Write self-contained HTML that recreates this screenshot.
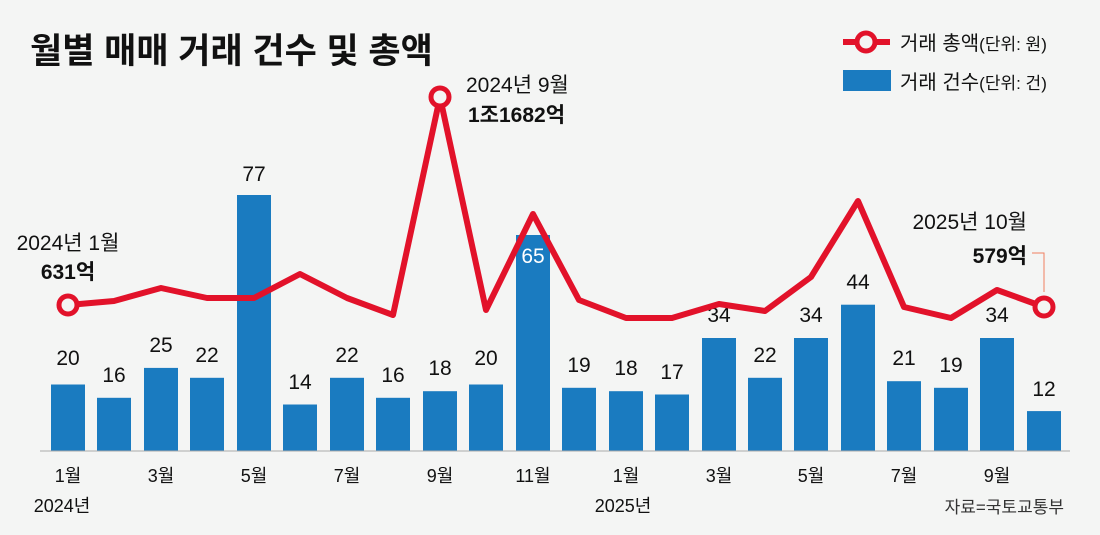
<!DOCTYPE html>
<html><head><meta charset="utf-8"><style>
html,body{margin:0;padding:0;background:#f4f5f4;}
svg{display:block;font-family:"Liberation Sans","Noto Sans CJK KR",sans-serif;}
</style></head><body>
<svg width="1100" height="535" viewBox="0 0 1100 535">
<rect width="1100" height="535" fill="#f4f5f4"/>
<text x="30" y="63" font-size="35" font-weight="bold" fill="#111">월별 매매 거래 건수 및 총액</text>
<line x1="843" y1="42" x2="890" y2="42" stroke="#e2122a" stroke-width="6"/>
<circle cx="866" cy="42" r="9" fill="#f4f5f4" stroke="#e2122a" stroke-width="5"/>
<text x="900" y="50" font-size="20" fill="#111">거래 총액<tspan font-size="17">(단위: 원)</tspan></text>
<rect x="843" y="70" width="48" height="21" fill="#1a7bc0"/>
<text x="900" y="89" font-size="20" fill="#111">거래 건수<tspan font-size="17">(단위: 건)</tspan></text>
<g fill="#1a7bc0">
<rect x="51" y="384.5" width="34" height="66.5"/>
<rect x="97" y="397.8" width="34" height="53.2"/>
<rect x="144" y="367.9" width="34" height="83.1"/>
<rect x="190" y="377.8" width="34" height="73.2"/>
<rect x="237" y="195" width="34" height="256"/>
<rect x="283" y="404.5" width="34" height="46.5"/>
<rect x="330" y="377.8" width="34" height="73.2"/>
<rect x="376" y="397.8" width="34" height="53.2"/>
<rect x="423" y="391.2" width="34" height="59.8"/>
<rect x="469" y="384.5" width="34" height="66.5"/>
<rect x="516" y="235" width="34" height="216"/>
<rect x="562" y="387.8" width="34" height="63.2"/>
<rect x="609" y="391.2" width="34" height="59.8"/>
<rect x="655" y="394.5" width="34" height="56.5"/>
<rect x="702" y="338" width="34" height="113"/>
<rect x="748" y="377.8" width="34" height="73.2"/>
<rect x="794" y="338" width="34" height="113"/>
<rect x="841" y="304.7" width="34" height="146.3"/>
<rect x="887" y="381.2" width="34" height="69.8"/>
<rect x="934" y="387.8" width="34" height="63.2"/>
<rect x="980" y="338" width="34" height="113"/>
<rect x="1027" y="411.1" width="34" height="39.9"/>
</g>
<line x1="40" y1="451" x2="1070" y2="451" stroke="#aaa" stroke-width="1"/>
<g font-size="21" fill="#111" text-anchor="middle">
<text x="68" y="365">20</text><text x="114" y="382">16</text><text x="161" y="352">25</text>
<text x="207" y="362">22</text><text x="254" y="181">77</text><text x="300" y="389">14</text>
<text x="347" y="362">22</text><text x="393" y="382">16</text><text x="440" y="375">18</text>
<text x="486" y="365">20</text><text x="533" y="263" fill="#fff">65</text><text x="579" y="372">19</text>
<text x="626" y="375">18</text><text x="672" y="379">17</text><text x="719" y="322">34</text>
<text x="765" y="362">22</text><text x="811" y="322">34</text><text x="858" y="289">44</text>
<text x="904" y="365">21</text><text x="951" y="372">19</text><text x="997" y="322">34</text>
<text x="1044" y="396">12</text>
</g>
<polyline fill="none" stroke="#e2122a" stroke-width="6" stroke-linejoin="round" points="68,305 114,301 161,288 207,298 254,298 300,274 347,298 393,315 440,97 486,310 533,214 579,300 626,318 672,318 719,304 765,311 811,277 858,201 904,307 951,318 997,290 1044,307"/>
<circle cx="68" cy="305" r="9" fill="#f4f5f4" stroke="#e2122a" stroke-width="5"/>
<circle cx="440" cy="97" r="9" fill="#f4f5f4" stroke="#e2122a" stroke-width="5"/>
<circle cx="1044" cy="307" r="9" fill="#f4f5f4" stroke="#e2122a" stroke-width="5"/>
<g font-size="21" fill="#111">
<text x="68" y="250" text-anchor="middle">2024년 1월</text>
<text x="68" y="279" text-anchor="middle" font-weight="bold">631억</text>
<text x="466" y="92">2024년 9월</text>
<text x="468" y="122" font-weight="bold">1조1682억</text>
<text x="1027" y="229" text-anchor="end">2025년 10월</text>
<text x="1027" y="263" text-anchor="end" font-weight="bold">579억</text>
</g>
<polyline fill="none" stroke="#f08060" stroke-width="1" points="1032,253 1044,253 1044,292"/>
<g font-size="18" fill="#111" text-anchor="middle">
<text x="68" y="482">1월</text><text x="161" y="482">3월</text><text x="254" y="482">5월</text>
<text x="347" y="482">7월</text><text x="440" y="482">9월</text><text x="533" y="482">11월</text>
<text x="626" y="482">1월</text><text x="719" y="482">3월</text><text x="811" y="482">5월</text>
<text x="904" y="482">7월</text><text x="997" y="482">9월</text>
<text x="62" y="512">2024년</text><text x="623" y="512">2025년</text>
</g>
<text x="1064" y="513" font-size="17" fill="#333" text-anchor="end">자료=국토교통부</text>
</svg>
</body></html>
